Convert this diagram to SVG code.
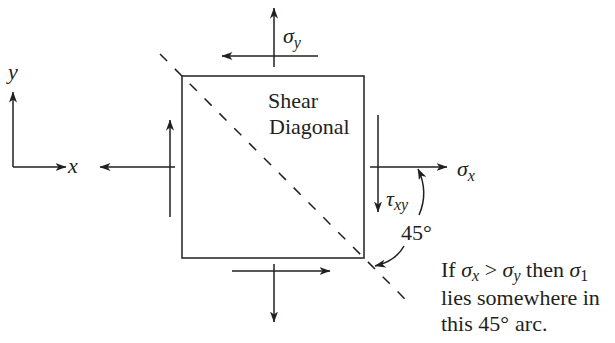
<svg xmlns="http://www.w3.org/2000/svg" width="615" height="343" viewBox="0 0 615 343">
<style>
.ln{stroke:#231f20;stroke-width:1.5;fill:none}
.ar{marker-end:url(#ah)}
.t{font-family:"Liberation Serif","Times New Roman",serif;font-size:22px;fill:#231f20}
.i{font-style:italic}
.s{font-size:16px}
</style>
<defs>
<marker id="ah" markerUnits="userSpaceOnUse" viewBox="0 0 11 8" refX="10.5" refY="4" markerWidth="11" markerHeight="8" orient="auto">
<path d="M0,0 L11,4 L0,8 L3,4 Z" fill="#231f20"/>
</marker>
</defs>
<g id="axes">
<path class="ln ar" d="M13,167 L13,92"/>
<path class="ln ar" d="M13,167 L66,167"/>
<text class="t i" x="8" y="79">y</text>
<text class="t i" x="68" y="173">x</text>
</g>
<g id="element">
<rect class="ln" x="182" y="76" width="182" height="182" stroke-width="1.6"/>
<text class="t" x="268" y="108">Shear</text>
<text class="t" x="269" y="134">Diagonal</text>
</g>
<g id="diagonal">
<path class="ln" d="M160,54 L408,302" stroke-dasharray="10,11" stroke-width="1.2"/>
</g>
<g id="connectors">
<path class="ln ar" d="M274,67 L274,8"/>
<path class="ln ar" d="M318,56 L222,56"/>
<path class="ln ar" d="M175,167 L100,167"/>
<path class="ln ar" d="M170,217 L170,120"/>
<path class="ln ar" d="M370,167 L447,167"/>
<path class="ln ar" d="M378,115 L378,212"/>
<path class="ln ar" d="M232,271 L330,271"/>
<path class="ln ar" d="M274,264 L274,322"/>
<path class="ln ar" d="M419,215 Q429,192 418,169"/>
<path class="ln ar" d="M404,246 Q396,261 375,266"/>
</g>
<g id="labels">
<text class="t i" x="283" y="43">σ<tspan class="s" dy="5">y</tspan></text>
<text class="t i" x="457" y="176">σ<tspan class="s" dy="5">x</tspan></text>
<text class="t i" x="386" y="206">τ<tspan class="s" dy="4">xy</tspan></text>
<text class="t" x="401" y="240">45°</text>
<text class="t" x="441" y="277">If <tspan class="i">σ</tspan><tspan class="i s" dy="4">x</tspan><tspan dy="-4"> &gt; </tspan><tspan class="i">σ</tspan><tspan class="i s" dy="4">y</tspan><tspan dy="-4"> then </tspan><tspan class="i">σ</tspan><tspan class="s" dy="4">1</tspan></text>
<text class="t" x="441" y="305">lies somewhere in</text>
<text class="t" x="441" y="331">this 45°<tspan dx="6">arc.</tspan></text>
</g>
</svg>
